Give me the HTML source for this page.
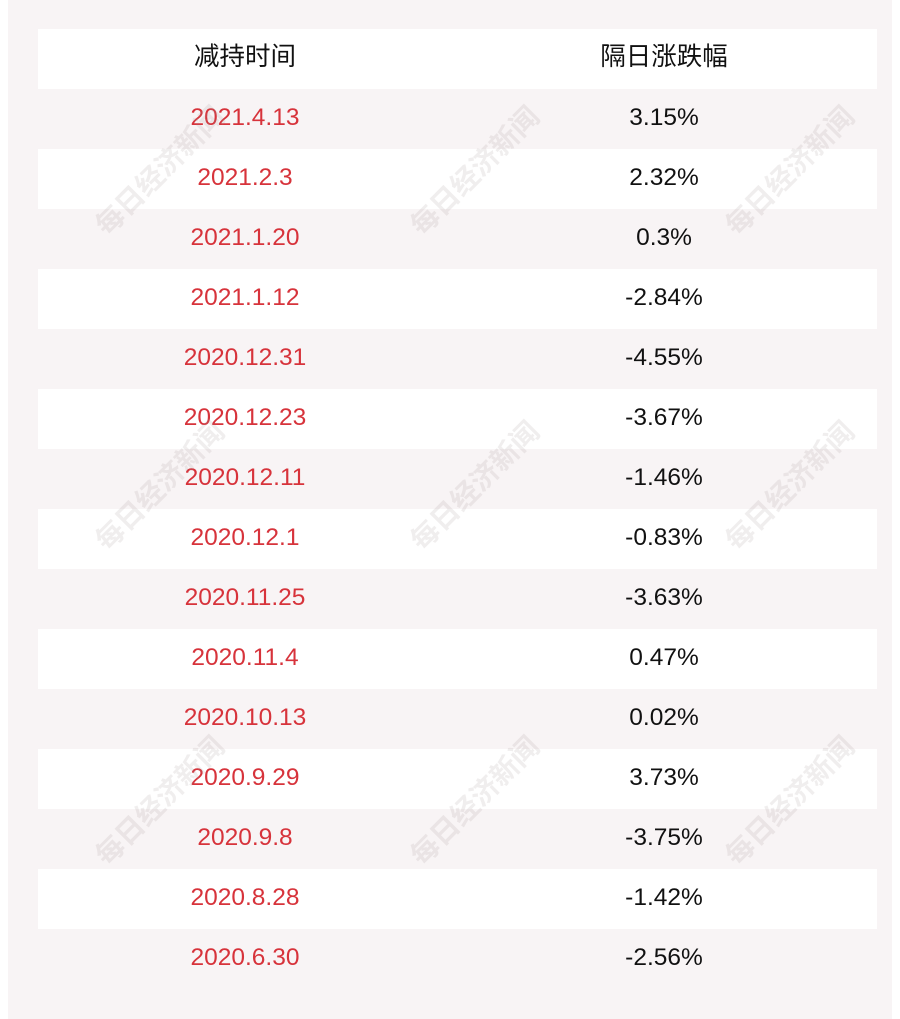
<!DOCTYPE html>
<html><head><meta charset="utf-8"><style>
body{margin:0;width:900px;height:1019px;background:#fff;position:relative;overflow:hidden;font-family:"Liberation Sans","Noto Sans CJK SC",sans-serif}
.bg{position:absolute;left:8px;top:0;width:884px;height:1019px;background:#f8f4f5}
.row{position:absolute;left:38px;width:839px;height:60px;font-size:24.5px;line-height:58px}
.w{background:#fff}
.c1{position:absolute;left:0;width:414px;text-align:center;color:#d7333b}
.c2{position:absolute;left:416px;width:420px;text-align:center;color:#111}
.h{font-size:25.5px;line-height:57px}
.h .c1{color:#111}
.wm{position:absolute;font-size:28px;font-weight:bold;color:rgba(160,150,150,0.16);transform:rotate(-45deg);white-space:nowrap;font-family:"Noto Sans CJK SC",sans-serif}
</style></head><body>
<div class="bg"></div>
<div class="row w h" style="top:29px"><div class="c1">减持时间</div><div class="c2">隔日涨跌幅</div></div>
<div class="row" style="top:89px"><div class="c1">2021.4.13</div><div class="c2">3.15%</div></div>
<div class="row w" style="top:149px"><div class="c1">2021.2.3</div><div class="c2">2.32%</div></div>
<div class="row" style="top:209px"><div class="c1">2021.1.20</div><div class="c2">0.3%</div></div>
<div class="row w" style="top:269px"><div class="c1">2021.1.12</div><div class="c2">-2.84%</div></div>
<div class="row" style="top:329px"><div class="c1">2020.12.31</div><div class="c2">-4.55%</div></div>
<div class="row w" style="top:389px"><div class="c1">2020.12.23</div><div class="c2">-3.67%</div></div>
<div class="row" style="top:449px"><div class="c1">2020.12.11</div><div class="c2">-1.46%</div></div>
<div class="row w" style="top:509px"><div class="c1">2020.12.1</div><div class="c2">-0.83%</div></div>
<div class="row" style="top:569px"><div class="c1">2020.11.25</div><div class="c2">-3.63%</div></div>
<div class="row w" style="top:629px"><div class="c1">2020.11.4</div><div class="c2">0.47%</div></div>
<div class="row" style="top:689px"><div class="c1">2020.10.13</div><div class="c2">0.02%</div></div>
<div class="row w" style="top:749px"><div class="c1">2020.9.29</div><div class="c2">3.73%</div></div>
<div class="row" style="top:809px"><div class="c1">2020.9.8</div><div class="c2">-3.75%</div></div>
<div class="row w" style="top:869px"><div class="c1">2020.8.28</div><div class="c2">-1.42%</div></div>
<div class="row" style="top:929px"><div class="c1">2020.6.30</div><div class="c2">-2.56%</div></div>
<div class="wm" style="left:75px;top:150px">每日经济新闻</div>
<div class="wm" style="left:390px;top:150px">每日经济新闻</div>
<div class="wm" style="left:705px;top:150px">每日经济新闻</div>
<div class="wm" style="left:75px;top:465px">每日经济新闻</div>
<div class="wm" style="left:390px;top:465px">每日经济新闻</div>
<div class="wm" style="left:705px;top:465px">每日经济新闻</div>
<div class="wm" style="left:75px;top:780px">每日经济新闻</div>
<div class="wm" style="left:390px;top:780px">每日经济新闻</div>
<div class="wm" style="left:705px;top:780px">每日经济新闻</div>
</body></html>
